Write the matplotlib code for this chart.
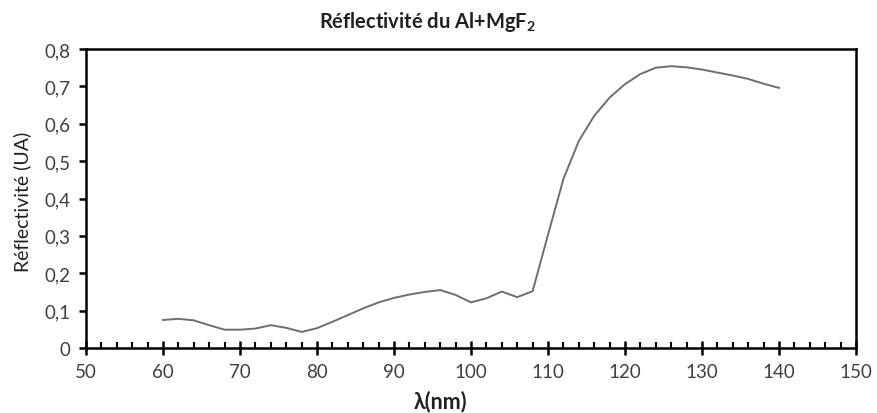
import matplotlib
matplotlib.use("Agg")
import matplotlib.pyplot as plt
from matplotlib.ticker import MultipleLocator, FuncFormatter

wavelength = [60, 62, 64, 66, 68, 70, 72, 74, 76, 78, 80, 82, 84, 86, 88, 90,
              92, 94, 96, 98, 100, 102, 104, 106, 108, 110, 112, 114, 116, 118,
              120, 122, 124, 126, 128, 130, 132, 134, 136, 138, 140]
reflectivity = [0.075, 0.078, 0.074, 0.061, 0.049, 0.049, 0.052, 0.061, 0.054, 0.043,
                0.053, 0.070, 0.088, 0.106, 0.122, 0.134, 0.143, 0.150, 0.155, 0.142,
                0.122, 0.133, 0.151, 0.136, 0.152, 0.303, 0.452, 0.554, 0.621, 0.670,
                0.706, 0.733, 0.750, 0.754, 0.751, 0.745, 0.737, 0.729, 0.720, 0.707,
                0.696]

plt.rcParams['font.family'] = ['Lato', 'DejaVu Sans']
plt.rcParams['mathtext.fontset'] = 'custom'
plt.rcParams['mathtext.rm'] = 'Lato:bold'
plt.rcParams['mathtext.it'] = 'Lato:bold'
plt.rcParams['mathtext.bf'] = 'Lato:bold'

fig = plt.figure(figsize=(8.77, 4.14), dpi=100)
ax = fig.add_axes([86/877, 1-349/414, (856-86)/877, (349-50)/414])

ax.plot(wavelength, reflectivity, color='#6e6e6e', lw=1.4)

ax.set_xlim(50, 150)
ax.set_ylim(0, 0.8)
ax.xaxis.set_major_locator(MultipleLocator(10))
ax.xaxis.set_minor_locator(MultipleLocator(2))
ax.yaxis.set_major_locator(MultipleLocator(0.1))
ax.yaxis.set_major_formatter(FuncFormatter(lambda v, p: ('%g' % round(v, 1)).replace('.', ',')))

for s in ax.spines.values():
    s.set_linewidth(1.8)
    s.set_color('black')

ax.tick_params(axis='x', which='major', direction='inout', length=10, width=1.8,
               labelsize=13.5, pad=6, colors='black', labelcolor='#404040')
ax.tick_params(axis='x', which='minor', direction='in', length=4, width=1.5, colors='black')
ax.tick_params(axis='y', which='major', direction='out', length=5, width=1.8,
               labelsize=13.5, pad=6, colors='black', labelcolor='#404040')
ax.tick_params(top=False, right=False)

fig.text(0.487, 1-22/414, 'Réflectivité du Al+MgF$_2$', ha='center', va='center',
         fontsize=14.5, fontweight='bold', color='#202020')
fig.text(0.502, 1-402/414, 'λ(nm)', ha='center', va='center',
         fontsize=15.5, fontweight='bold', color='#202020')
fig.text(22/877, 1-202/414, 'Réflectivité (UA)', ha='center', va='center',
         rotation=90, fontsize=14, color='#202020')

fig.savefig('out.png', dpi=100)
